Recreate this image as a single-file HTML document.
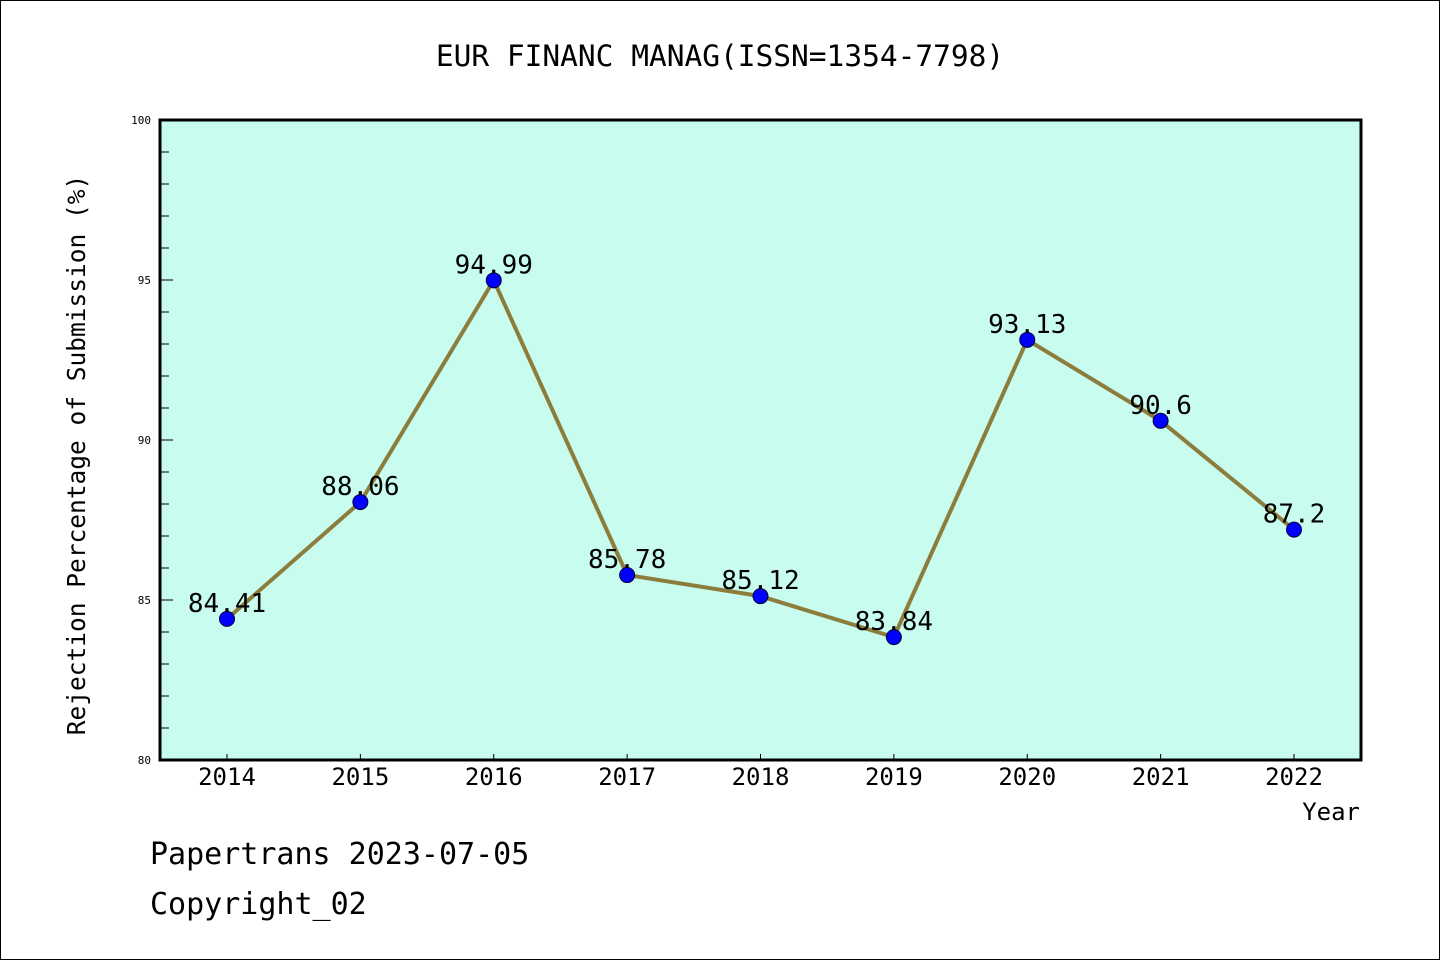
<!DOCTYPE html>
<html><head><meta charset="utf-8"><style>
body{margin:0;background:#fff}
svg{display:block;font-family:"DejaVu Sans Mono","Liberation Mono",monospace}
</style></head><body>
<svg width="1440" height="960" viewBox="0 0 1440 960">
<rect x="0.5" y="0.5" width="1439" height="959" fill="#fff" stroke="#000"/>
<text x="720" y="66" font-size="29.5" text-anchor="middle">EUR FINANC MANAG(ISSN=1354-7798)</text>
<rect x="160" y="120" width="1201" height="640" fill="#c8fcee"/>
<g id="axes"></g>
<g id="series"></g>
<rect x="160" y="120" width="1201" height="640" fill="none" stroke="#000" stroke-width="3"/>
<text x="85" y="455" font-size="24.5" text-anchor="middle" transform="rotate(-90 85 455)">Rejection Percentage of Submission (%)</text>
<text x="1360" y="820" font-size="24" text-anchor="end">Year</text>
<text x="150" y="864" font-size="30">Papertrans 2023-07-05</text>
<text x="150" y="914" font-size="30">Copyright_02</text>
</svg>
<script>
const years=[2014,2015,2016,2017,2018,2019,2020,2021,2022];
const values=[84.41,88.06,94.99,85.78,85.12,83.84,93.13,90.6,87.2];
const labels=["84.41","88.06","94.99","85.78","85.12","83.84","93.13","90.6","87.2"];
const yTicks=[80,85,90,95,100];
const NS="http://www.w3.org/2000/svg";
const X=i=>227+i*(1294-227)/(years.length-1);
const Y=v=>760-(v-80)*32;
function mk(t,a,p){const e=document.createElementNS(NS,t);for(const k in a)e.setAttribute(k,a[k]);p.appendChild(e);return e;}
const ax=document.getElementById('axes');
for(let v=80;v<=100;v++){
 const major=v%5===0;
 const l=mk('line',{x1:160,x2:major?173:169,y1:Y(v),y2:Y(v),stroke:'#000','stroke-width':1},ax);
 
 
}
yTicks.forEach(v=>{
 const t=mk('text',{x:151,y:Y(v)+4,'font-size':11,'text-anchor':'end'},ax);t.textContent=v;
 
 
});
years.forEach((y,i)=>{
 const l=mk('line',{x1:X(i),x2:X(i),y1:754,y2:760,stroke:'#000'},ax);
 
 
 const t=mk('text',{x:X(i),y:785,'font-size':24,'text-anchor':'middle'},ax);t.textContent=y;
 
 
});
const s=document.getElementById('series');
const pl=mk('polyline',{points:values.map((v,i)=>X(i)+','+Y(v)).join(' '),fill:'none',stroke:'#8c7d3c','stroke-width':4,'stroke-linejoin':'round'},s);


values.forEach((v,i)=>{
 const c=mk('circle',{cx:X(i),cy:Y(v),r:7.5,fill:'#0000ff',stroke:'#000033','stroke-width':1},s);
 
 
 const t=mk('text',{x:X(i),y:Y(v)-7,'font-size':26,'text-anchor':'middle'},s);t.textContent=labels[i];
 
 
});
</script>
</body></html>
